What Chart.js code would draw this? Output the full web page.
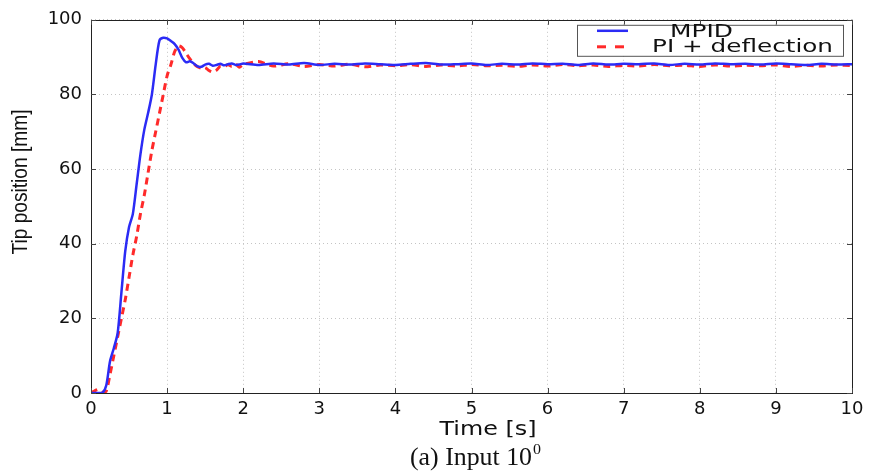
<!DOCTYPE html>
<html>
<head>
<meta charset="utf-8">
<script src="https://cdn.jsdelivr.net/npm/chart.js@4.4.1/dist/chart.umd.min.js"></script>
<style>
html, body { margin: 0; padding: 0; background: #fff; }
#mycanvas { display: block; }
</style>
</head>
<body>
<canvas id="mycanvas" width="876" height="472"></canvas>
<script>
// time samples [s]
var time = [0, 0.05, 0.1, 0.15, 0.2, 0.25, 0.3, 0.35, 0.4, 0.45,
	0.5, 0.55, 0.6, 0.65, 0.7, 0.75, 0.8, 0.85, 0.9, 0.95,
	1.0, 1.05, 1.1, 1.15, 1.2, 1.25, 1.3, 1.35, 1.4, 1.45,
	1.5, 1.55, 1.6, 1.65, 1.7, 1.75, 1.8, 1.85, 1.9, 1.95,
	2.0, 2.2, 2.4, 2.6, 2.8, 3.0, 3.2, 3.4, 3.6, 3.8,
	4.0, 4.2, 4.4, 4.6, 4.8, 5.0, 5.2, 5.4, 5.6, 5.8,
	6.0, 6.2, 6.4, 6.6, 6.8, 7.0, 7.2, 7.4, 7.6, 7.8,
	8.0, 8.2, 8.4, 8.6, 8.8, 9.0, 9.2, 9.4, 9.6, 9.8, 10.0];

// tip position [mm]
var mpid = [0, 0, 0, 0, 2, 8.5, 12, 16, 27, 38,
	44.5, 48, 56, 64, 70.5, 75, 80, 88, 94.5, 95.2,
	95, 94.3, 93.5, 92, 89.8, 88.6, 88.9, 88.3, 87.5, 87.4,
	88, 88.2, 87.7, 87.9, 88.2, 87.8, 88.1, 88.3, 87.9, 88.0,
	88.3, 87.9, 88.3, 88.0, 88.4, 87.9, 88.2, 88.0, 88.3, 88.1,
	87.9, 88.2, 88.4, 88.0, 88.1, 88.3, 87.9, 88.2, 88.0, 88.3,
	88.1, 88.2, 87.9, 88.3, 88.0, 88.2, 88.1, 88.3, 87.9, 88.2,
	88.0, 88.3, 88.1, 88.2, 88.0, 88.3, 88.1, 87.9, 88.2, 88.0, 88.1];

var piDefl = [0, 0.6, 1, 0.2, 0.5, 5, 10, 15, 20, 25,
	31, 37, 42, 48, 53, 59, 65, 70, 75, 80,
	85, 88, 91.5, 93, 92.5, 91, 89.5, 88.2, 87.4, 87.0,
	87.2, 86.4, 86.0, 86.5, 87.6, 87.4, 88.0, 87.5, 88.1, 87.3,
	88.0, 88.8, 87.6, 88.2, 87.5, 88.0, 87.6, 88.1, 87.4, 87.9,
	87.7, 88.0, 87.5, 87.9, 87.6, 88.0, 87.7, 87.8, 87.5, 87.9,
	87.6, 88.0, 87.7, 87.9, 87.5, 87.8, 87.6, 88.0, 87.7, 87.8,
	87.5, 87.9, 87.6, 87.8, 87.7, 87.9, 87.5, 87.8, 87.6, 87.9, 87.7];

var xTicks = [0, 1, 2, 3, 4, 5, 6, 7, 8, 9, 10];
var yTicks = [0, 20, 40, 60, 80, 100];
var names = ['MPID', 'PI + deflection'];
var xTitle = 'Time [s]';
var yTitle = 'Tip position [mm]';
var caption = '(a) Input 10';
var captionSup = '0';

var BLUE = '#2b2bf5';
var RED = '#ff2a2a';

function pts(ys){
	var out = [];
	for (var i in time){
		out.push({x: time[i], y: ys[i]});
	}
	return out;
}

// text squeezed/stretched to a given width (the figure is not square-pixelled)
function fitText(ctx, text, x, y, font, w, align){
	ctx.save();
	ctx.font = font;
	var m = ctx.measureText(text).width;
	var s = w / m;
	ctx.translate(x, y);
	ctx.scale(s, 1);
	ctx.textAlign = align || 'center';
	ctx.textBaseline = 'middle';
	ctx.fillStyle = '#111';
	ctx.fillText(text, 0, 0);
	ctx.restore();
}

var frame = {
	id: 'frame',
	afterDraw: function(chart){
		var ctx = chart.ctx;
		var a = chart.chartArea;
		var xs = chart.scales.x, ys = chart.scales.y;
		ctx.save();
		// box
		ctx.strokeStyle = '#222';
		ctx.lineWidth = 1;
		ctx.strokeRect(Math.round(a.left) + 0.5, Math.round(a.top) + 0.5,
			Math.round(a.right - a.left), Math.round(a.bottom - a.top));
		// inward ticks
		ctx.strokeStyle = '#444';
		ctx.beginPath();
		xTicks.forEach(function(v){
			var px = Math.round(xs.getPixelForValue(v)) + 0.5;
			ctx.moveTo(px, a.bottom); ctx.lineTo(px, a.bottom - 5);
			ctx.moveTo(px, a.top); ctx.lineTo(px, a.top + 5);
		});
		yTicks.forEach(function(v){
			var py = Math.round(ys.getPixelForValue(v)) + 0.5;
			ctx.moveTo(a.left, py); ctx.lineTo(a.left + 5, py);
			ctx.moveTo(a.right, py); ctx.lineTo(a.right - 5, py);
		});
		ctx.stroke();

		// legend box
		var bx = a.right - 275, by = a.top + 5, bw = 266, bh = 31;
		ctx.fillStyle = '#fff';
		ctx.fillRect(bx, by, bw, bh);
		ctx.strokeStyle = '#555';
		ctx.strokeRect(bx + 0.5, by + 0.5, bw, bh);
		ctx.lineWidth = 2.5;
		ctx.strokeStyle = BLUE;
		ctx.beginPath(); ctx.moveTo(bx + 20, by + 6); ctx.lineTo(bx + 51, by + 6); ctx.stroke();
		ctx.strokeStyle = RED;
		ctx.lineWidth = 3;
		ctx.setLineDash([9, 9]);
		ctx.beginPath(); ctx.moveTo(bx + 20, by + 22); ctx.lineTo(bx + 56, by + 22); ctx.stroke();
		ctx.setLineDash([]);
		fitText(ctx, names[0], bx + 93, by + 8, '18px "DejaVu Sans"', 63, 'left');
		fitText(ctx, names[1], bx + 75, by + 23, '18px "DejaVu Sans"', 181, 'left');

		// titles
		fitText(ctx, xTitle, 488, 430, '19px "DejaVu Sans"', 97, 'center');
		ctx.save();
		ctx.translate(21, 182);
		ctx.rotate(-Math.PI / 2);
		fitText(ctx, yTitle, 0, 0, '22px "Liberation Sans"', 145, 'center');
		ctx.restore();
		fitText(ctx, caption, 410, 458, '25px "Liberation Serif"', 122, 'left');
		fitText(ctx, captionSup, 533, 450, '15px "Liberation Serif"', 8, 'left');
		ctx.restore();
	}
};

var ctx = document.getElementById('mycanvas');
var chart = new Chart(ctx, {
	type: 'line',
	data: {
		datasets: [
			{
				label: names[0],
				data: pts(mpid),
				borderColor: BLUE,
				borderWidth: 2.5,
				pointRadius: 0,
				tension: 0.25,
				fill: false
			},
			{
				label: names[1],
				data: pts(piDefl),
				borderColor: RED,
				borderWidth: 3,
				borderDash: [7, 5],
				pointRadius: 0,
				tension: 0.25,
				fill: false
			}
		]
	},
	options: {
		responsive: false,
		animation: false,
		devicePixelRatio: 1,
		layout: { padding: { left: 0, right: 24, top: 17, bottom: 0 } },
		plugins: {
			legend: { display: false },
			tooltip: { enabled: false },
			title: { display: false }
		},
		scales: {
			x: {
				type: 'linear',
				min: 0, max: 10,
				afterBuildTicks: function(s){ s.ticks = xTicks.map(function(v){ return {value: v}; }); },
				afterFit: function(s){ s.height = 79; },
				grid: { color: '#c4c4c4', drawTicks: false },
				border: { display: false, dash: [1, 3] },
				ticks: { padding: 6, color: '#111', font: { family: 'DejaVu Sans', size: 18 }, maxRotation: 0 }
			},
			y: {
				min: 0, max: 100,
				afterBuildTicks: function(s){ s.ticks = yTicks.map(function(v){ return {value: v}; }); },
				afterFit: function(s){ s.width = 91; },
				grid: { color: '#c4c4c4', drawTicks: false },
				border: { display: false, dash: [1, 3] },
				ticks: { padding: 9, color: '#111', font: { family: 'DejaVu Sans', size: 18 } }
			}
		}
	},
	plugins: [frame]
});
</script>
</body>
</html>
